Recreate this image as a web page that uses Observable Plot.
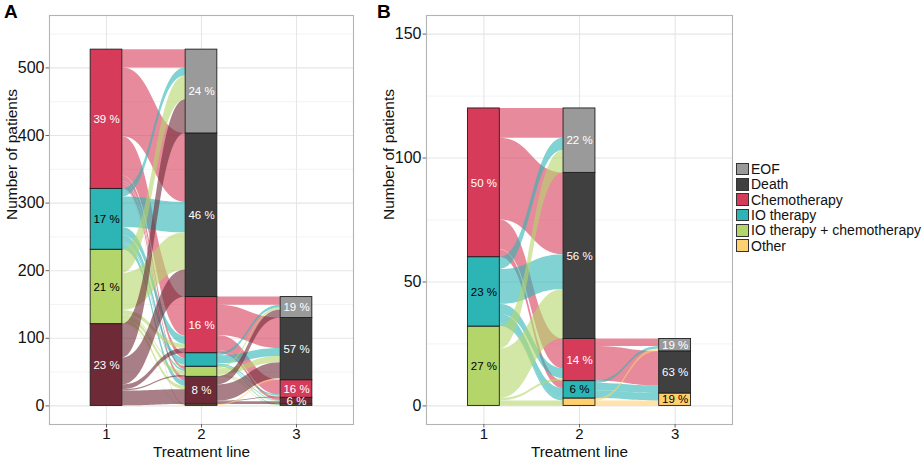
<!DOCTYPE html>
<html><head><meta charset="utf-8">
<script src="https://cdn.jsdelivr.net/npm/d3@7"></script>
<script src="https://cdn.jsdelivr.net/npm/@observablehq/plot@0.6"></script>
<style>
body{margin:0;background:#fff;font-family:"Liberation Sans",Arial,sans-serif;}
#wrap{position:relative;width:923px;height:459px;overflow:hidden;}
#wrap svg{position:absolute;top:0;}
.letter{position:absolute;top:1px;font-weight:bold;font-size:19px;color:#000;}
#legend{position:absolute;left:736px;top:161.5px;font-size:14px;color:#111;}
#legend .row{display:flex;align-items:center;height:15.3px;}
#legend .key{width:13px;height:12.5px;border:0.8px solid #333;margin-right:2px;box-sizing:border-box;}
</style></head><body><div id="wrap"></div>
<script>
// ---------- data ----------
const strata = ["EOF", "Death", "Chemotherapy", "IO therapy", "IO therapy + chemotherapy", "Unlisted", "Other"];
const colors = ["#9a9a9a", "#404040", "#d63c5a", "#2db5b5", "#b4d56a", "#6e2a36", "#ffd070"];
const legendItems = ["EOF", "Death", "Chemotherapy", "IO therapy", "IO therapy + chemotherapy", "Other"];
const blackLabelStrata = ["IO therapy", "IO therapy + chemotherapy", "Other"];
const treatmentLines = [1, 2, 3];

// Panel A: [from stratum, to stratum, patients]
const flowsA12 = [
  ["Chemotherapy", "EOF", 27], ["Chemotherapy", "Death", 102], ["Chemotherapy", "Chemotherapy", 58],
  ["Chemotherapy", "IO therapy", 8], ["Chemotherapy", "IO therapy + chemotherapy", 4],
  ["Chemotherapy", "Unlisted", 6], ["Chemotherapy", "Other", 1],
  ["IO therapy", "EOF", 12], ["IO therapy", "Death", 45], ["IO therapy", "Chemotherapy", 12],
  ["IO therapy", "IO therapy", 10], ["IO therapy", "IO therapy + chemotherapy", 3], ["IO therapy", "Unlisted", 8],
  ["IO therapy + chemotherapy", "EOF", 35], ["IO therapy + chemotherapy", "Death", 55],
  ["IO therapy + chemotherapy", "Chemotherapy", 6], ["IO therapy + chemotherapy", "IO therapy", 2],
  ["IO therapy + chemotherapy", "IO therapy + chemotherapy", 6], ["IO therapy + chemotherapy", "Unlisted", 5],
  ["IO therapy + chemotherapy", "Other", 1],
  ["Unlisted", "EOF", 50], ["Unlisted", "Death", 40], ["Unlisted", "Chemotherapy", 7],
  ["Unlisted", "IO therapy + chemotherapy", 2], ["Unlisted", "Unlisted", 22]
];
const flowsA23 = [
  ["Chemotherapy", "EOF", 12], ["Chemotherapy", "Death", 45], ["Chemotherapy", "Chemotherapy", 22], ["Chemotherapy", "Unlisted", 4],
  ["IO therapy", "EOF", 4], ["IO therapy", "Death", 12], ["IO therapy", "Chemotherapy", 2], ["IO therapy", "Unlisted", 1], ["IO therapy", "Other", 1],
  ["IO therapy + chemotherapy", "EOF", 3], ["IO therapy + chemotherapy", "Death", 9], ["IO therapy + chemotherapy", "Chemotherapy", 1],
  ["IO therapy + chemotherapy", "Unlisted", 1], ["IO therapy + chemotherapy", "Other", 1],
  ["Unlisted", "EOF", 12], ["Unlisted", "Death", 24], ["Unlisted", "Chemotherapy", 1], ["Unlisted", "Unlisted", 4],
  ["Other", "Death", 2]
];
// Panel B
const flowsB12 = [
  ["Chemotherapy", "EOF", 12], ["Chemotherapy", "Death", 33], ["Chemotherapy", "Chemotherapy", 12], ["Chemotherapy", "IO therapy", 3],
  ["IO therapy", "EOF", 5], ["IO therapy", "Death", 14], ["IO therapy", "Chemotherapy", 4], ["IO therapy", "IO therapy", 4], ["IO therapy", "Other", 1],
  ["IO therapy + chemotherapy", "EOF", 9], ["IO therapy + chemotherapy", "Death", 20],
  ["IO therapy + chemotherapy", "Chemotherapy", 1], ["IO therapy + chemotherapy", "Other", 2]
];
const flowsB23 = [
  ["Chemotherapy", "EOF", 3], ["Chemotherapy", "Death", 14],
  ["IO therapy", "EOF", 1], ["IO therapy", "Death", 3], ["IO therapy", "Other", 3],
  ["Other", "EOF", 1], ["Other", "Other", 2]
];
const yTicksA = [0, 100, 200, 300, 400, 500];
const yMinorA = [50, 150, 250, 350, 450, 550];
const yTicksB = [0, 50, 100, 150];
const yMinorB = [25, 75, 125];

// ---------- layout (alluvial stacking) ----------
const W = 1 / 3;
const idx = s => strata.indexOf(s);
function layout(flows12, flows23) {
  const sums = (flows, k) => { const m = new Map(); for (const f of flows) m.set(f[k], (m.get(f[k]) || 0) + f[2]); return m; };
  const counts = [sums(flows12, 0), sums(flows12, 1), sums(flows23, 1)];
  const strataRows = [], pos = [];
  counts.forEach((m, i) => {
    const line = treatmentLines[i];
    const total = d3.sum(m.values());
    let y = 0; const p = new Map();
    for (const s of [...strata].reverse()) {
      if (!m.has(s)) continue;
      const n = m.get(s);
      p.set(s, {outTop: y + n, inTop: y + n});
      strataRows.push({line, stratum: s, n, y0: y, y1: y + n, pct: Math.round(100 * n / total)});
      y += n;
    }
    pos.push(p);
  });
  const flowRows = [];
  [flows12, flows23].forEach((flows, i) => {
    const L = treatmentLines[i], R = treatmentLines[i + 1];
    const left = new Map(), right = new Map();
    [...flows].sort((a, b) => idx(a[0]) - idx(b[0]) || idx(a[1]) - idx(b[1])).forEach(f => {
      const p = pos[i].get(f[0]); left.set(f, [p.outTop - f[2], p.outTop]); p.outTop -= f[2];
    });
    [...flows].sort((a, b) => idx(a[1]) - idx(b[1]) || idx(a[0]) - idx(b[0])).forEach(f => {
      const p = pos[i + 1].get(f[1]); right.set(f, [p.inTop - f[2], p.inTop]); p.inTop -= f[2];
    });
    flows.forEach((f, j) => {
      const id = i + "-" + j;
      flowRows.push({id, from: f[0], x: L + W / 2, y1: left.get(f)[0], y2: left.get(f)[1]});
      flowRows.push({id, from: f[0], x: R - W / 2, y1: right.get(f)[0], y2: right.get(f)[1]});
    });
  });
  return {strataRows, flowRows};
}

function panel({flows12, flows23, yDomain, yTicks, yMinor, width, marginRight}) {
  const {strataRows, flowRows} = layout(flows12, flows23);
  const labelled = strataRows.filter(d => d.pct >= 5);
  const mid = d => (d.y0 + d.y1) / 2;
  const lbl = d => `${d.pct} %`;
  return Plot.plot({
    width, height: 459, marginLeft: 49, marginRight, marginTop: 15, marginBottom: 35,
    x: {domain: [0.4, 3.6]},
    y: {domain: yDomain},
    color: {domain: strata, range: colors},
    style: {fontFamily: "'Liberation Sans', Arial, sans-serif", background: "white", overflow: "visible"},
    marks: [
      Plot.gridY(yMinor, {stroke: "#eeeeee", strokeOpacity: 1, strokeWidth: 0.7}),
      Plot.gridY(yTicks, {stroke: "#e6e6e6", strokeOpacity: 1, strokeWidth: 1.1}),
      Plot.gridX(treatmentLines, {stroke: "#e6e6e6", strokeOpacity: 1, strokeWidth: 1.1}),
      Plot.areaY(flowRows, {x: "x", y1: "y1", y2: "y2", z: "id", fill: "from", fillOpacity: 0.6, curve: "bump-x"}),
      Plot.rect(strataRows, {x1: d => d.line - W / 2, x2: d => d.line + W / 2, y1: "y0", y2: "y1", fill: "stratum", stroke: "#1e1e1e", strokeWidth: 0.9}),
      Plot.text(labelled.filter(d => !blackLabelStrata.includes(d.stratum)), {x: "line", y: mid, text: lbl, fill: "white", fontSize: 11.5}),
      Plot.text(labelled.filter(d => blackLabelStrata.includes(d.stratum)), {x: "line", y: mid, text: lbl, fill: "black", fontSize: 11.5}),
      Plot.frame({stroke: "#b3b3b3", strokeWidth: 1.1}),
      Plot.axisY(yTicks, {tickSize: 3.5, tickPadding: 1.5, fontSize: 16, stroke: "#666", fill: "#111", label: null}),
      Plot.axisX(treatmentLines, {tickSize: 3.5, tickPadding: 0, fontSize: 15, stroke: "#666", fill: "#111", label: null, tickFormat: d => String(d)}),
      Plot.text(["Number of patients"], {frameAnchor: "left", lineAnchor: "middle", dx: -37, rotate: -90, fontSize: 15.5, fill: "#111"}),
      Plot.text(["Treatment line"], {frameAnchor: "bottom", lineAnchor: "middle", dy: 28, fontSize: 15.3, fill: "#111"})
    ]
  });
}

const wrap = document.getElementById("wrap");
const svgA = panel({flows12: flowsA12, flows23: flowsA23, yDomain: [-27.5, 577.5], yTicks: yTicksA, yMinor: yMinorA, width: 362, marginRight: 9});
svgA.style.left = "0px";
wrap.appendChild(svgA);
const svgB = panel({flows12: flowsB12, flows23: flowsB23, yDomain: [-7.5, 157.5], yTicks: yTicksB, yMinor: yMinorB, width: 360, marginRight: 5});
svgB.style.left = "377px";
wrap.appendChild(svgB);

for (const [t, x] of [["A", 4], ["B", 377]]) {
  const d = document.createElement("div"); d.className = "letter"; d.style.left = x + "px"; d.textContent = t; wrap.appendChild(d);
}
const leg = document.createElement("div"); leg.id = "legend";
for (const s of legendItems) {
  const r = document.createElement("div"); r.className = "row";
  const k = document.createElement("div"); k.className = "key"; k.style.background = colors[strata.indexOf(s)];
  const t = document.createElement("span"); t.textContent = s;
  r.appendChild(k); r.appendChild(t); leg.appendChild(r);
}
wrap.appendChild(leg);
</script></body></html>
